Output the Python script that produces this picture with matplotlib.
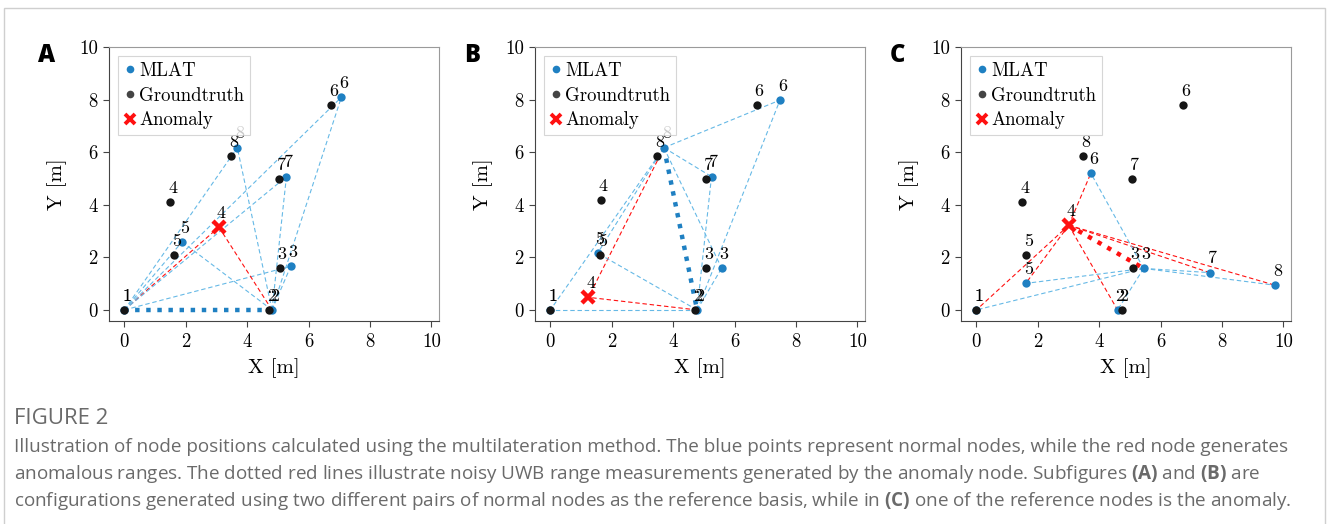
import matplotlib
matplotlib.use("Agg")
import matplotlib.pyplot as plt
from matplotlib.lines import Line2D
from matplotlib.patches import Rectangle

# node ids 1..8, node 4 is the anomaly in every panel
NODES = [1, 2, 3, 4, 5, 6, 7, 8]
ANOMALY = 4

# panel A: reference nodes 1 and 2
a_mlat_x = [0.0, 4.81, 5.42, 3.08, 1.88, 7.07, 5.28, 3.68]
a_mlat_y = [0.0, 0.0, 1.66, 3.15, 2.59, 8.09, 5.07, 6.17]
a_gt_x = [0.0, 4.71, 5.06, 1.49, 1.62, 6.73, 5.05, 3.47]
a_gt_y = [0.0, 0.0, 1.59, 4.10, 2.09, 7.80, 4.97, 5.85]
a_refs = (1, 2)

# panel B: reference nodes 8 and 2
b_mlat_x = [0.0, 4.78, 5.58, 1.24, 1.54, 7.48, 5.25, 3.70]
b_mlat_y = [0.0, 0.0, 1.59, 0.48, 2.16, 7.98, 5.07, 6.17]
b_gt_x = [0.0, 4.72, 5.07, 1.64, 1.63, 6.72, 5.06, 3.47]
b_gt_y = [0.0, 0.0, 1.59, 4.18, 2.09, 7.80, 4.97, 5.85]
b_refs = (8, 2)

# panel C: reference nodes 4 (anomaly) and 3
c_mlat_x = [0.0, 4.60, 5.45, 3.01, 1.61, 3.73, 7.60, 9.73]
c_mlat_y = [0.0, 0.0, 1.58, 3.22, 1.01, 5.20, 1.42, 0.94]
c_gt_x = [0.0, 4.73, 5.09, 1.49, 1.62, 6.73, 5.08, 3.48]
c_gt_y = [0.0, 0.0, 1.58, 4.10, 2.09, 7.80, 4.97, 5.85]
c_refs = (4, 3)

panels = [
    ("A", a_mlat_x, a_mlat_y, a_gt_x, a_gt_y, a_refs),
    ("B", b_mlat_x, b_mlat_y, b_gt_x, b_gt_y, b_refs),
    ("C", c_mlat_x, c_mlat_y, c_gt_x, c_gt_y, c_refs),
]

BLUE = "#1f80c2"
LIGHTBLUE = "#66b9e6"
RED = "#ff1010"
BLACK = "#161616"

plt.rcParams["font.family"] = "serif"
plt.rcParams["font.serif"] = ["cmr10"]
plt.rcParams["axes.unicode_minus"] = False
plt.rcParams["mathtext.fontset"] = "custom"
plt.rcParams["mathtext.rm"] = "Open Sans"
plt.rcParams["mathtext.bf"] = "Open Sans:bold"

fig = plt.figure(figsize=(13.28, 5.24), dpi=100)

lefts = [109, 535, 961]
for (letter, mx, my, gx, gy, refs), left in zip(panels, lefts):
    ax = fig.add_axes([left / 1328, 1 - 321 / 524, 330 / 1328, 274 / 524])
    pos = {n: (mx[i], my[i]) for i, n in enumerate(NODES)}

    # range lines from both reference nodes
    for r in refs:
        for n in NODES:
            if n in refs:
                continue
            col = RED if ANOMALY in (r, n) else LIGHTBLUE
            ax.plot([pos[r][0], pos[n][0]], [pos[r][1], pos[n][1]],
                    ls=(0, (4, 2.5)), lw=0.8, color=col, zorder=2)
    r1, r2 = refs
    col = RED if ANOMALY in refs else BLUE
    ax.plot([pos[r1][0], pos[r2][0]], [pos[r1][1], pos[r2][1]],
            ls=(0, (1, 1.5)), lw=3.2, color=col, zorder=2.5)

    # points
    norm = [i for i, n in enumerate(NODES) if n != ANOMALY]
    ax.scatter([mx[i] for i in norm], [my[i] for i in norm], s=36,
               color=BLUE, zorder=3, linewidths=0)
    ax.scatter(gx, gy, s=36, color=BLACK, zorder=4, linewidths=0)
    ai = NODES.index(ANOMALY)
    ax.plot(mx[ai], my[ai], marker="x", ms=8, mew=3.2, color=RED,
            ls="none", zorder=5)

    # number labels
    for i, n in enumerate(NODES):
        for x, y in ((gx[i], gy[i]), (mx[i], my[i])):
            ax.annotate(str(n), (x, y), xytext=(-1.5, 4.5),
                        textcoords="offset points", ha="left", va="bottom",
                        fontsize=13, color="black", zorder=6)

    ax.set_xlim(-0.5, 10.25)
    ax.set_ylim(-0.42, 10)
    ax.set_xticks([0, 2, 4, 6, 8, 10])
    ax.set_yticks([0, 2, 4, 6, 8, 10])
    ax.tick_params(labelsize=13.5, length=4, color="#444444")
    ax.tick_params(axis="x", pad=5)
    ax.tick_params(axis="y", pad=4)
    for s in ("left", "bottom"):
        ax.spines[s].set_color("#444444")
    for s in ("top", "right"):
        ax.spines[s].set_color("#9a9a9a")
    ax.set_xlabel("X [m]", fontsize=15, labelpad=5)
    ax.set_ylabel("Y [m]", fontsize=15, labelpad=9)

    handles = [
        Line2D([], [], ls="none", marker="o", ms=5.5, color=BLUE, mew=0),
        Line2D([], [], ls="none", marker="o", ms=5.5, color="#444444", mew=0),
        Line2D([], [], ls="none", marker="x", ms=7, mew=2.8, color=RED),
    ]
    leg = ax.legend(handles, ["MLAT", "Groundtruth", "Anomaly"], loc="upper left",
                    fontsize=13.5, handlelength=0.6, handletextpad=0.2,
                    borderpad=0.3, labelspacing=0.36, borderaxespad=0.5,
                    fancybox=False, framealpha=0.8, edgecolor="#cccccc")
    leg.get_frame().set_linewidth(0.8)
    leg.set_zorder(7)

    fig.text((left - 71) / 1328, 1 - 56 / 524, letter, fontsize=17,
             fontweight="heavy", family="Open Sans", color="black", va="center")

# border round the whole figure
fig.patches.append(Rectangle((4 / 1328, -0.2), 1321 / 1328, 1.2 - 8 / 524,
                             transform=fig.transFigure, fill=False,
                             edgecolor="#cfcfcf", lw=1))

cap_color = "#6a6a6a"
fig.text(14 / 1328, 1 - 419 / 524, "FIGURE 2", family="Open Sans",
         fontsize=16, color=cap_color, va="center")
lines = [
    "Illustration of node positions calculated using the multilateration method. "
    "The blue points represent normal nodes, while the red node generates",
    "anomalous ranges. The dotted red lines illustrate noisy UWB range measurements "
    r"generated by the anomaly node. Subfigures $\mathbf{(A)}$ and $\mathbf{(B)}$ are",
    "configurations generated using two different pairs of normal nodes as the "
    r"reference basis, while in $\mathbf{(C)}$ one of the reference nodes is the anomaly.",
]
for k, line in enumerate(lines):
    fig.text(14 / 1328, 1 - (447 + 27 * k) / 524, line, family="Open Sans",
             fontsize=13.6, color=cap_color, va="center")

fig.savefig("out.png", dpi=100)
